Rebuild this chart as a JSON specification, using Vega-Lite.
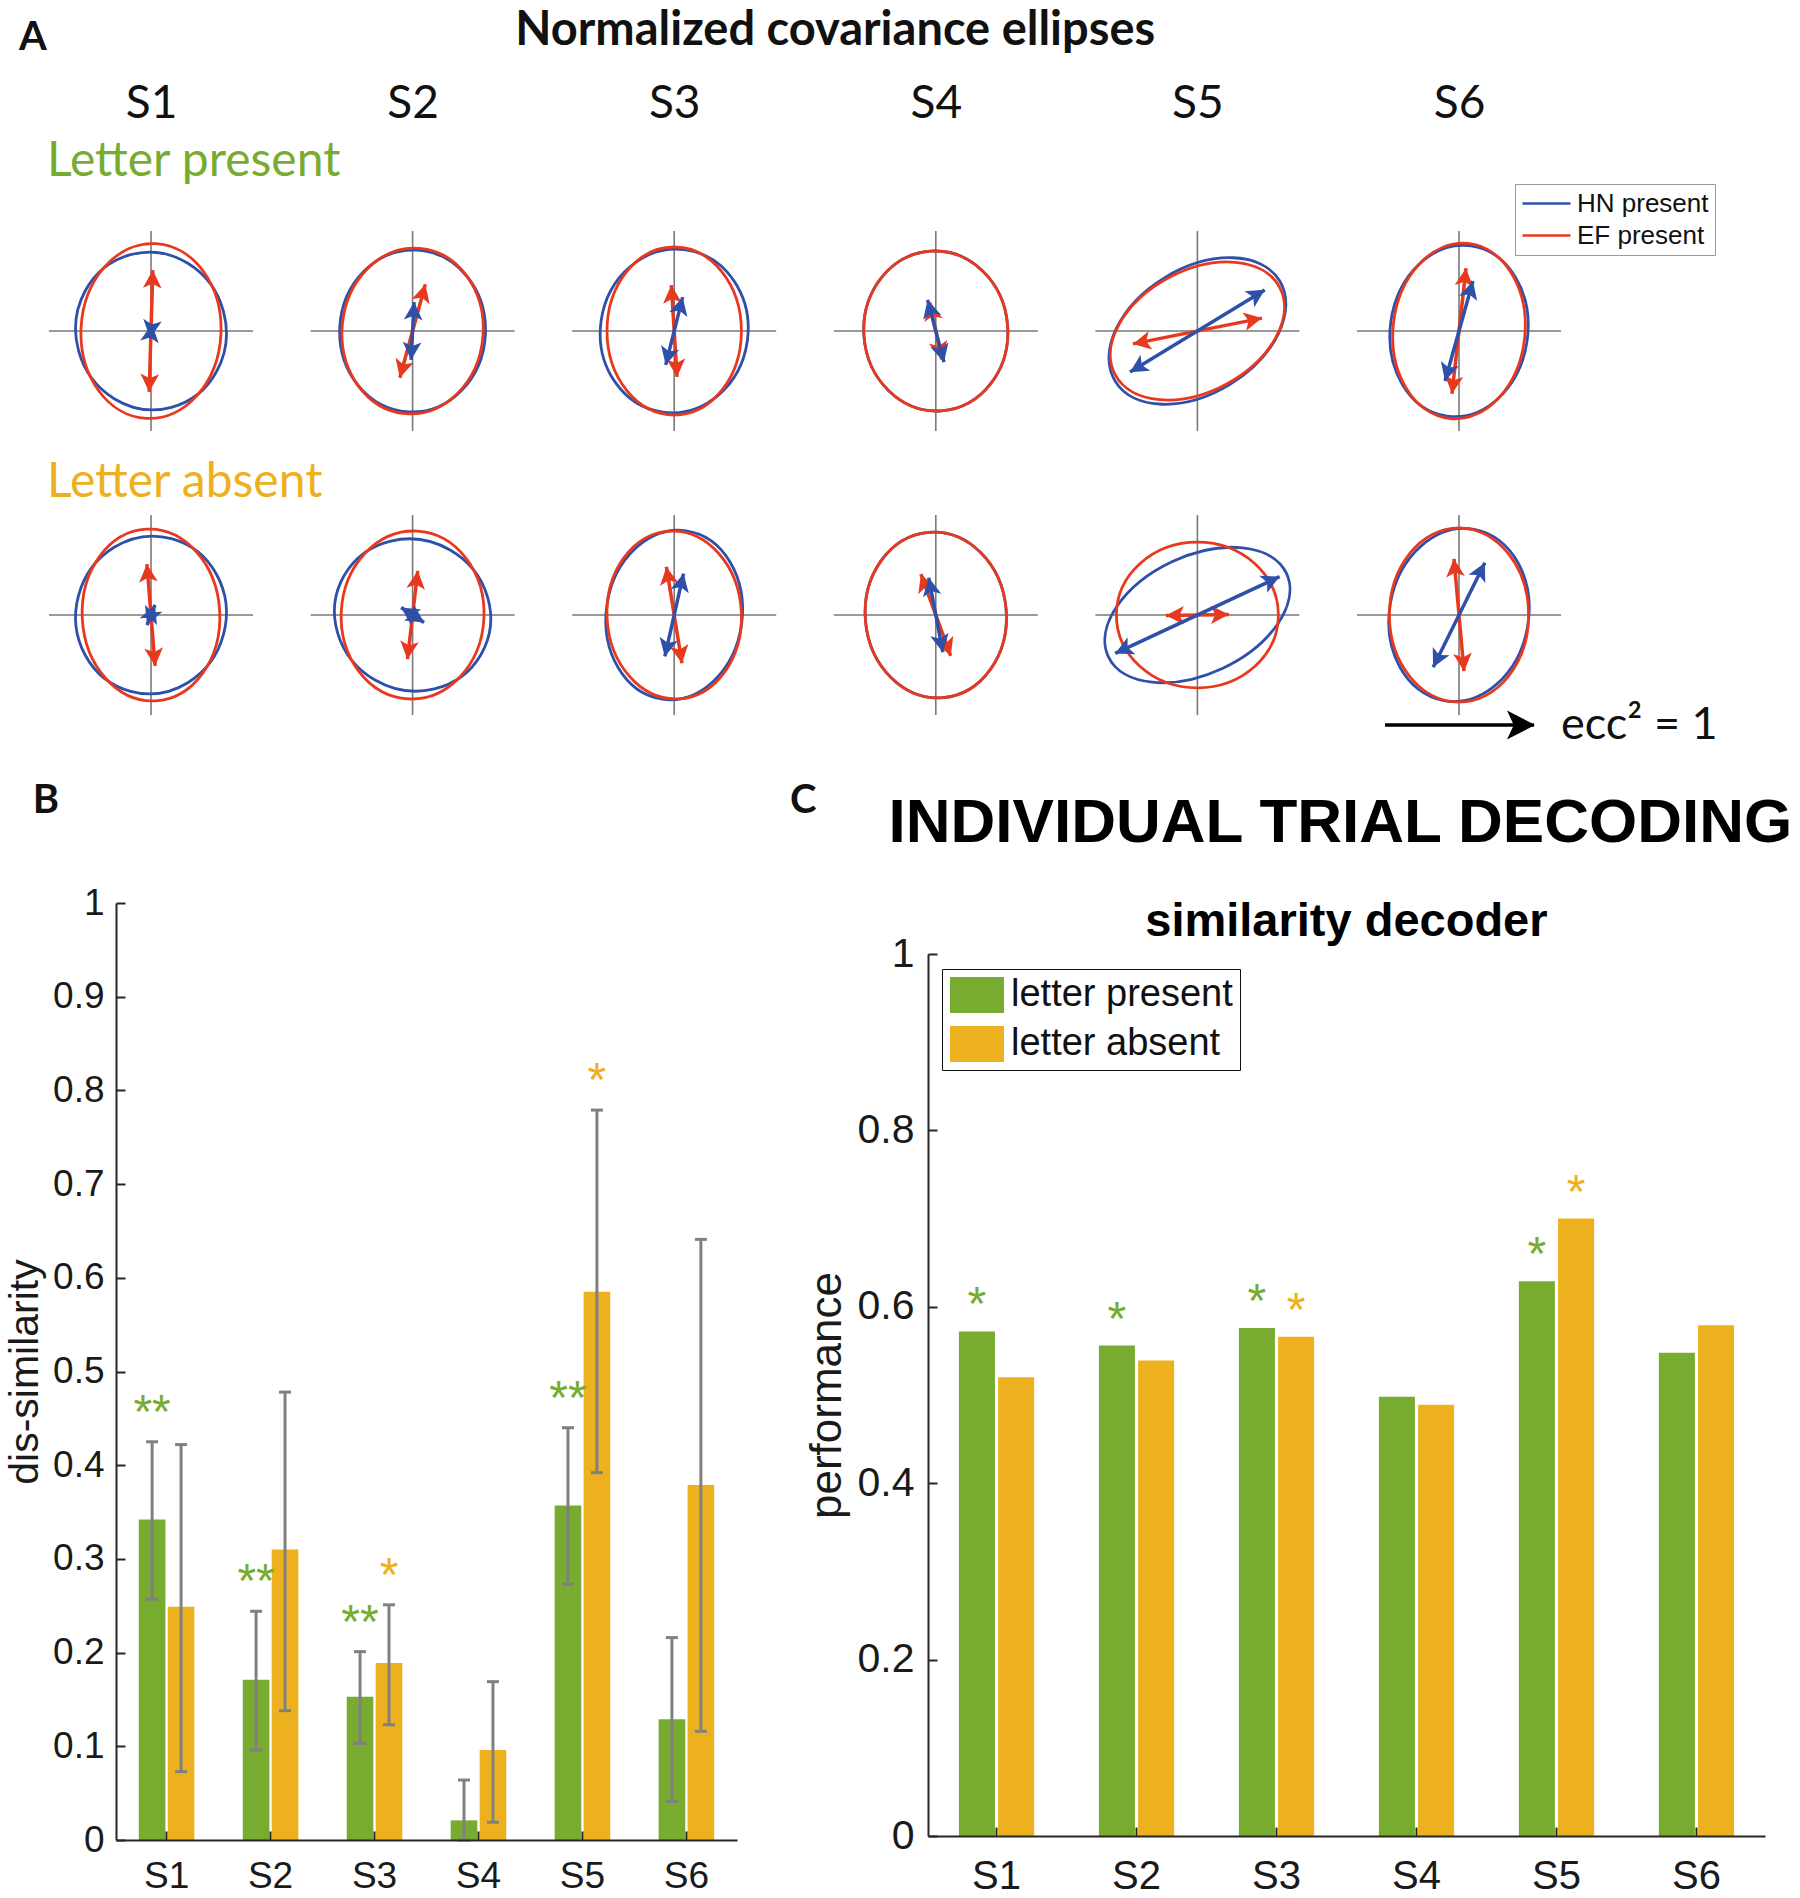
{
"$schema": "https://vega.github.io/schema/vega-lite/v6.json",
"width": 1800, "height": 1898, "padding": 0, "autosize": {"type": "none"}, "background": "white",
"config": {"view": {"stroke": null}, "axis": {"grid": false, "labelFont": "Liberation Sans", "titleFont": "Liberation Sans", "labelColor": "#1a1a1a", "titleColor": "#1a1a1a", "domainColor": "#262626", "tickColor": "#262626"}},
"datasets": {
"ellipses": [
{"s":"S1","r":"present","w":"HN","a":0.79,"asp":"0.95","phi":105},
{"s":"S1","r":"present","w":"EF","a":0.875,"asp":"0.8","phi":87},
{"s":"S2","r":"present","w":"HN","a":0.81,"asp":"0.9","phi":87},
{"s":"S2","r":"present","w":"EF","a":0.83,"asp":"0.85","phi":85},
{"s":"S3","r":"present","w":"HN","a":0.82,"asp":"0.9","phi":82},
{"s":"S3","r":"present","w":"EF","a":0.84,"asp":"0.8","phi":90},
{"s":"S4","r":"present","w":"HN","a":0.80,"asp":"0.9","phi":94},
{"s":"S4","r":"present","w":"EF","a":0.80,"asp":"0.9","phi":94},
{"s":"S5","r":"present","w":"HN","a":0.963,"asp":"0.65","phi":31.4},
{"s":"S5","r":"present","w":"EF","a":0.931,"asp":"0.65","phi":28},
{"s":"S6","r":"present","w":"HN","a":0.86,"asp":"0.8","phi":82},
{"s":"S6","r":"present","w":"EF","a":0.88,"asp":"0.75","phi":84},
{"s":"S1","r":"absent","w":"HN","a":0.79,"asp":"0.95","phi":75},
{"s":"S1","r":"absent","w":"EF","a":0.86,"asp":"0.8","phi":93},
{"s":"S2","r":"absent","w":"HN","a":0.79,"asp":"0.95","phi":150},
{"s":"S2","r":"absent","w":"EF","a":0.84,"asp":"0.85","phi":87},
{"s":"S3","r":"absent","w":"HN","a":0.85,"asp":"0.8","phi":82},
{"s":"S3","r":"absent","w":"EF","a":0.84,"asp":"0.8","phi":93},
{"s":"S4","r":"absent","w":"HN","a":0.83,"asp":"0.85","phi":95},
{"s":"S4","r":"absent","w":"EF","a":0.83,"asp":"0.85","phi":95},
{"s":"S5","r":"absent","w":"HN","a":0.983,"asp":"0.6","phi":25},
{"s":"S5","r":"absent","w":"EF","a":0.81,"asp":"0.9","phi":0},
{"s":"S6","r":"absent","w":"HN","a":0.87,"asp":"0.8","phi":80},
{"s":"S6","r":"absent","w":"EF","a":0.87,"asp":"0.8","phi":90}
],
"arrows": [
{"s":"S1","r":"present","w":"EF","len":0.609,"phi":88.3,"tx":0.018,"ty":0.609,"bx":-0.018,"by":-0.609},
{"s":"S1","r":"present","w":"HN","len":0.071,"phi":82,"tx":0.01,"ty":0.07,"bx":-0.01,"by":-0.07},
{"s":"S2","r":"present","w":"EF","len":0.484,"phi":74.7,"tx":0.128,"ty":0.467,"bx":-0.128,"by":-0.467},
{"s":"S2","r":"present","w":"HN","len":0.29,"phi":87,"tx":0.015,"ty":0.29,"bx":-0.015,"by":-0.29},
{"s":"S3","r":"present","w":"EF","len":0.459,"phi":93.6,"tx":-0.029,"ty":0.459,"bx":0.029,"by":-0.459},
{"s":"S3","r":"present","w":"HN","len":0.349,"phi":75.9,"tx":0.085,"ty":0.339,"bx":-0.085,"by":-0.339},
{"s":"S4","r":"present","w":"EF","len":0.291,"phi":101.9,"tx":-0.06,"ty":0.285,"bx":0.06,"by":-0.285},
{"s":"S4","r":"present","w":"HN","len":0.322,"phi":104.7,"tx":-0.082,"ty":0.312,"bx":0.082,"by":-0.312},
{"s":"S5","r":"present","w":"EF","len":0.658,"phi":11.3,"tx":0.646,"ty":0.129,"bx":-0.646,"by":-0.129},
{"s":"S5","r":"present","w":"HN","len":0.789,"phi":31.4,"tx":0.674,"ty":0.412,"bx":-0.674,"by":-0.412},
{"s":"S6","r":"present","w":"EF","len":0.632,"phi":83.6,"tx":0.07,"ty":0.628,"bx":-0.07,"by":-0.628},
{"s":"S6","r":"present","w":"HN","len":0.519,"phi":74.4,"tx":0.14,"ty":0.5,"bx":-0.14,"by":-0.5},
{"s":"S1","r":"absent","w":"EF","len":0.51,"phi":94.6,"tx":-0.041,"ty":0.509,"bx":0.041,"by":-0.509},
{"s":"S1","r":"absent","w":"HN","len":0.108,"phi":68.2,"tx":0.04,"ty":0.1,"bx":-0.04,"by":-0.1},
{"s":"S2","r":"absent","w":"EF","len":0.444,"phi":83.3,"tx":0.052,"ty":0.442,"bx":-0.052,"by":-0.442},
{"s":"S2","r":"absent","w":"HN","len":0.137,"phi":146.9,"tx":-0.115,"ty":0.075,"bx":0.115,"by":-0.075},
{"s":"S3","r":"absent","w":"EF","len":0.489,"phi":99.2,"tx":-0.078,"ty":0.483,"bx":0.078,"by":-0.483},
{"s":"S3","r":"absent","w":"HN","len":0.424,"phi":77.3,"tx":0.094,"ty":0.414,"bx":-0.094,"by":-0.414},
{"s":"S4","r":"absent","w":"EF","len":0.435,"phi":110,"tx":-0.149,"ty":0.409,"bx":0.149,"by":-0.409},
{"s":"S4","r":"absent","w":"HN","len":0.379,"phi":100.7,"tx":-0.07,"ty":0.372,"bx":0.07,"by":-0.372},
{"s":"S5","r":"absent","w":"EF","len":0.315,"phi":0.9,"tx":0.315,"ty":0.005,"bx":-0.315,"by":-0.005},
{"s":"S5","r":"absent","w":"HN","len":0.907,"phi":25,"tx":0.822,"ty":0.384,"bx":-0.822,"by":-0.384},
{"s":"S6","r":"absent","w":"EF","len":0.564,"phi":95.1,"tx":-0.051,"ty":0.562,"bx":0.051,"by":-0.562},
{"s":"S6","r":"absent","w":"HN","len":0.583,"phi":63.7,"tx":0.259,"ty":0.523,"bx":-0.259,"by":-0.523}
],
"dissim": [
{"s":"S1","cond":"letter present","v":0.342,"lo":0.257,"hi":0.425,"sig":"**"},
{"s":"S1","cond":"letter absent","v":0.249,"lo":0.073,"hi":0.422,"sig":""},
{"s":"S2","cond":"letter present","v":0.171,"lo":0.096,"hi":0.244,"sig":"**"},
{"s":"S2","cond":"letter absent","v":0.310,"lo":0.138,"hi":0.478,"sig":""},
{"s":"S3","cond":"letter present","v":0.153,"lo":0.103,"hi":0.201,"sig":"**"},
{"s":"S3","cond":"letter absent","v":0.189,"lo":0.123,"hi":0.251,"sig":"*"},
{"s":"S4","cond":"letter present","v":0.021,"lo":0,"hi":0.064,"sig":""},
{"s":"S4","cond":"letter absent","v":0.096,"lo":0.019,"hi":0.169,"sig":""},
{"s":"S5","cond":"letter present","v":0.357,"lo":0.273,"hi":0.440,"sig":"**"},
{"s":"S5","cond":"letter absent","v":0.585,"lo":0.392,"hi":0.779,"sig":"*"},
{"s":"S6","cond":"letter present","v":0.129,"lo":0.041,"hi":0.216,"sig":""},
{"s":"S6","cond":"letter absent","v":0.379,"lo":0.116,"hi":0.641,"sig":""}
],
"perf": [
{"s":"S1","cond":"letter present","v":0.572,"sig":"*"},
{"s":"S1","cond":"letter absent","v":0.520,"sig":""},
{"s":"S2","cond":"letter present","v":0.556,"sig":"*"},
{"s":"S2","cond":"letter absent","v":0.539,"sig":""},
{"s":"S3","cond":"letter present","v":0.576,"sig":"*"},
{"s":"S3","cond":"letter absent","v":0.566,"sig":"*"},
{"s":"S4","cond":"letter present","v":0.498,"sig":""},
{"s":"S4","cond":"letter absent","v":0.489,"sig":""},
{"s":"S5","cond":"letter present","v":0.629,"sig":"*"},
{"s":"S5","cond":"letter absent","v":0.700,"sig":"*"},
{"s":"S6","cond":"letter present","v":0.548,"sig":""},
{"s":"S6","cond":"letter absent","v":0.579,"sig":""}
]
},
"layer": [
{
"layer": [
{"data": {"name": "ellipses"}, "transform": [{"filter": "datum.w == 'HN'"}],
 "mark": {"type": "point", "shape": "M -1 0 L 1 0 M 0 -0.98 L 0 0.98", "size": 41616, "filled": false, "stroke": "#7a7a7a", "strokeWidth": 1.6, "opacity": 1},
 "encoding": {
  "x": {"field": "s", "type": "nominal", "scale": {"type": "point", "domain": ["S1","S2","S3","S4","S5","S6"], "range": [151, 1459], "padding": 0}, "axis": {"orient": "top", "offset": -103, "title": null, "domain": false, "ticks": false, "labelPadding": 0, "labelBaseline": "middle", "labelFont": "Lato", "labelFontSize": 46, "labelColor": "#111111", "labelAngle": 0}},
  "y": {"field": "r", "type": "nominal", "scale": {"type": "point", "domain": ["present","absent"], "range": [331, 615], "padding": 0}, "axis": null}}},
{"data": {"name": "ellipses"}, "transform": [{"filter": "datum.r == 'present'"}],
 "mark": {"type": "point", "filled": false, "strokeWidth": 2.8, "opacity": 1},
 "encoding": {
  "x": {"field": "s", "type": "nominal"},
  "y": {"field": "r", "type": "nominal"},
  "shape": {"field": "asp", "type": "nominal", "legend": null, "scale": {"domain": ["0.6","0.65","0.75","0.8","0.85","0.9","0.95"], "range": [
   "M 0 -1 C 0.3314 -1 0.6 -0.5523 0.6 0 C 0.6 0.5523 0.3314 1 0 1 C -0.3314 1 -0.6 0.5523 -0.6 0 C -0.6 -0.5523 -0.3314 -1 0 -1 Z",
   "M 0 -1 C 0.359 -1 0.65 -0.5523 0.65 0 C 0.65 0.5523 0.359 1 0 1 C -0.359 1 -0.65 0.5523 -0.65 0 C -0.65 -0.5523 -0.359 -1 0 -1 Z",
   "M 0 -1 C 0.4142 -1 0.75 -0.5523 0.75 0 C 0.75 0.5523 0.4142 1 0 1 C -0.4142 1 -0.75 0.5523 -0.75 0 C -0.75 -0.5523 -0.4142 -1 0 -1 Z",
   "M 0 -1 C 0.4418 -1 0.8 -0.5523 0.8 0 C 0.8 0.5523 0.4418 1 0 1 C -0.4418 1 -0.8 0.5523 -0.8 0 C -0.8 -0.5523 -0.4418 -1 0 -1 Z",
   "M 0 -1 C 0.4695 -1 0.85 -0.5523 0.85 0 C 0.85 0.5523 0.4695 1 0 1 C -0.4695 1 -0.85 0.5523 -0.85 0 C -0.85 -0.5523 -0.4695 -1 0 -1 Z",
   "M 0 -1 C 0.4971 -1 0.9 -0.5523 0.9 0 C 0.9 0.5523 0.4971 1 0 1 C -0.4971 1 -0.9 0.5523 -0.9 0 C -0.9 -0.5523 -0.4971 -1 0 -1 Z",
   "M 0 -1 C 0.5247 -1 0.95 -0.5523 0.95 0 C 0.95 0.5523 0.5247 1 0 1 C -0.5247 1 -0.95 0.5523 -0.95 0 C -0.95 -0.5523 -0.5247 -1 0 -1 Z"]}},
  "size": {"field": "a", "type": "quantitative", "legend": null, "scale": {"type": "pow", "exponent": 2, "domain": [0, 1], "range": [0, 40000]}},
  "angle": {"field": "phi", "type": "quantitative", "legend": null, "scale": {"domain": [-180, 180], "range": [270, -90]}},
  "stroke": {"field": "w", "type": "nominal", "scale": {"domain": ["HN","EF"], "range": ["#2F50A8","#E8391F"]},
   "legend": {"orient": "none", "legendX": 1515, "legendY": 184, "title": null, "labelExpr": "datum.label + ' present'", "symbolType": "M -1 0 L 3 0", "symbolSize": 576, "symbolStrokeWidth": 2.5, "labelFont": "Liberation Sans", "labelFontSize": 26, "labelColor": "#111111", "labelOffset": 29, "labelLimit": 400, "padding": 6, "rowPadding": 5, "strokeColor": "#9a9a9a", "fillColor": "white"}}}},
{"data": {"name": "ellipses"}, "transform": [{"filter": "datum.r == 'absent'"}],
 "mark": {"type": "point", "filled": false, "strokeWidth": 2.8, "opacity": 1},
 "encoding": {
  "x": {"field": "s", "type": "nominal"},
  "y": {"field": "r", "type": "nominal"},
  "shape": {"field": "asp", "type": "nominal", "legend": null},
  "size": {"field": "a", "type": "quantitative", "legend": null},
  "angle": {"field": "phi", "type": "quantitative", "legend": null},
  "color": {"field": "w", "type": "nominal", "scale": {"domain": ["HN","EF"], "range": ["#2F50A8","#E8391F"]},
   "legend": {"orient": "none", "legendX": 1511, "legendY": 472, "title": null, "labelExpr": "datum.label + ' absent'", "symbolType": "M -1 0 L 3 0", "symbolSize": 576, "symbolStrokeWidth": 2.5, "labelFont": "Liberation Sans", "labelFontSize": 26, "labelColor": "#111111", "labelOffset": 29, "labelLimit": 400, "padding": 6, "rowPadding": 5, "strokeColor": "#9a9a9a", "fillColor": "white"}}}},
{"data": {"name": "arrows"}, "transform": [{"filter": "datum.w == 'EF'"}],
 "mark": {"type": "point", "shape": "M 0 -1 L 0 1", "filled": false, "strokeWidth": 3.5, "opacity": 1},
 "encoding": {"x": {"field": "s", "type": "nominal"}, "y": {"field": "r", "type": "nominal"},
  "size": {"field": "len", "type": "quantitative", "legend": null}, "angle": {"field": "phi", "type": "quantitative", "legend": null},
  "color": {"field": "w", "type": "nominal"}}},
{"data": {"name": "arrows"}, "transform": [{"filter": "datum.w == 'EF'"}],
 "mark": {"type": "point", "shape": "M 0 0 L 0.75 1.45 L 0 1.1 L -0.75 1.45 Z", "filled": true, "size": 620, "opacity": 1},
 "encoding": {"x": {"field": "s", "type": "nominal"}, "y": {"field": "r", "type": "nominal"},
  "xOffset": {"field": "tx", "type": "quantitative", "scale": {"domain": [-1, 1], "range": [-100, 100]}},
  "yOffset": {"field": "ty", "type": "quantitative", "scale": {"domain": [-1, 1], "range": [100, -100]}},
  "angle": {"field": "phi", "type": "quantitative", "legend": null},
  "color": {"field": "w", "type": "nominal"}}},
{"data": {"name": "arrows"}, "transform": [{"filter": "datum.w == 'EF'"}],
 "mark": {"type": "point", "shape": "M 0 0 L 0.75 -1.45 L 0 -1.1 L -0.75 -1.45 Z", "filled": true, "size": 620, "opacity": 1},
 "encoding": {"x": {"field": "s", "type": "nominal"}, "y": {"field": "r", "type": "nominal"},
  "xOffset": {"field": "bx", "type": "quantitative", "scale": {"domain": [-1, 1], "range": [-100, 100]}},
  "yOffset": {"field": "by", "type": "quantitative", "scale": {"domain": [-1, 1], "range": [100, -100]}},
  "angle": {"field": "phi", "type": "quantitative", "legend": null},
  "color": {"field": "w", "type": "nominal"}}},
{"data": {"name": "arrows"}, "transform": [{"filter": "datum.w == 'HN'"}],
 "mark": {"type": "point", "shape": "M 0 -1 L 0 1", "filled": false, "strokeWidth": 3.5, "opacity": 1},
 "encoding": {"x": {"field": "s", "type": "nominal"}, "y": {"field": "r", "type": "nominal"},
  "size": {"field": "len", "type": "quantitative", "legend": null}, "angle": {"field": "phi", "type": "quantitative", "legend": null},
  "color": {"field": "w", "type": "nominal"}}},
{"data": {"name": "arrows"}, "transform": [{"filter": "datum.w == 'HN'"}],
 "mark": {"type": "point", "shape": "M 0 0 L 0.75 1.45 L 0 1.1 L -0.75 1.45 Z", "filled": true, "size": 620, "opacity": 1},
 "encoding": {"x": {"field": "s", "type": "nominal"}, "y": {"field": "r", "type": "nominal"},
  "xOffset": {"field": "tx", "type": "quantitative", "scale": {"domain": [-1, 1], "range": [-100, 100]}},
  "yOffset": {"field": "ty", "type": "quantitative", "scale": {"domain": [-1, 1], "range": [100, -100]}},
  "angle": {"field": "phi", "type": "quantitative", "legend": null},
  "color": {"field": "w", "type": "nominal"}}},
{"data": {"name": "arrows"}, "transform": [{"filter": "datum.w == 'HN'"}],
 "mark": {"type": "point", "shape": "M 0 0 L 0.75 -1.45 L 0 -1.1 L -0.75 -1.45 Z", "filled": true, "size": 620, "opacity": 1},
 "encoding": {"x": {"field": "s", "type": "nominal"}, "y": {"field": "r", "type": "nominal"},
  "xOffset": {"field": "bx", "type": "quantitative", "scale": {"domain": [-1, 1], "range": [-100, 100]}},
  "yOffset": {"field": "by", "type": "quantitative", "scale": {"domain": [-1, 1], "range": [100, -100]}},
  "angle": {"field": "phi", "type": "quantitative", "legend": null},
  "color": {"field": "w", "type": "nominal"}}},
{"data": {"values": [{}]},
 "mark": {"type": "point", "shape": "M -1 0 L 1 0", "filled": false, "stroke": "black", "strokeWidth": 3.5, "size": 22201, "opacity": 1},
 "encoding": {"x": {"datum": "S6", "type": "nominal"}, "y": {"datum": "absent", "type": "nominal"}, "xOffset": {"datum": 0.005, "type": "quantitative", "scale": {"domain": [-1, 1], "range": [-100, 100]}}, "yOffset": {"datum": -1.10, "type": "quantitative", "scale": {"domain": [-1, 1], "range": [100, -100]}}}},
{"data": {"values": [{}]},
 "mark": {"type": "point", "shape": "M 0 0 L 0.75 1.45 L 0 1.1 L -0.75 1.45 Z", "filled": true, "fill": "black", "size": 1490, "angle": 90, "opacity": 1},
 "encoding": {"x": {"datum": "S6", "type": "nominal"}, "y": {"datum": "absent", "type": "nominal"}, "xOffset": {"datum": 0.76, "type": "quantitative", "scale": {"domain": [-1, 1], "range": [-100, 100]}}, "yOffset": {"datum": -1.10, "type": "quantitative", "scale": {"domain": [-1, 1], "range": [100, -100]}}}},
{"data": {"values": [{}]},
 "mark": {"type": "text", "text": "ecc² = 1", "font": "Lato", "fontSize": 45, "align": "left", "baseline": "middle", "color": "#111111"},
 "encoding": {"x": {"datum": "S6", "type": "nominal"}, "y": {"datum": "absent", "type": "nominal"}, "xOffset": {"datum": 1.02, "type": "quantitative", "scale": {"domain": [-1, 1], "range": [-100, 100]}}, "yOffset": {"datum": -1.10, "type": "quantitative", "scale": {"domain": [-1, 1], "range": [100, -100]}}}},
{"data": {"values": [{}]},
 "mark": {"type": "text", "text": "A", "font": "Lato", "fontSize": 40, "fontWeight": "bold", "align": "center", "baseline": "middle", "color": "#111111"},
 "encoding": {"x": {"datum": "S1", "type": "nominal"}, "y": {"datum": "present", "type": "nominal"}, "xOffset": {"datum": -1.18, "type": "quantitative", "scale": {"domain": [-1, 1], "range": [-100, 100]}}, "yOffset": {"datum": 2.93, "type": "quantitative", "scale": {"domain": [-1, 1], "range": [100, -100]}}}},
{"data": {"values": [{}]},
 "mark": {"type": "text", "text": "Normalized covariance ellipses", "font": "Lato", "fontSize": 47, "fontWeight": "bold", "align": "center", "baseline": "middle", "color": "#111111"},
 "encoding": {"x": {"datum": "S3", "type": "nominal"}, "y": {"datum": "present", "type": "nominal"}, "xOffset": {"datum": 1.61, "type": "quantitative", "scale": {"domain": [-1, 1], "range": [-100, 100]}}, "yOffset": {"datum": 3.0, "type": "quantitative", "scale": {"domain": [-1, 1], "range": [100, -100]}}}},
{"data": {"values": [{}]},
 "mark": {"type": "text", "text": "Letter present", "font": "Lato", "fontSize": 48, "align": "left", "baseline": "middle", "color": "#77AC30"},
 "encoding": {"x": {"datum": "S1", "type": "nominal"}, "y": {"datum": "present", "type": "nominal"}, "xOffset": {"datum": -1.04, "type": "quantitative", "scale": {"domain": [-1, 1], "range": [-100, 100]}}, "yOffset": {"datum": 1.69, "type": "quantitative", "scale": {"domain": [-1, 1], "range": [100, -100]}}}},
{"data": {"values": [{}]},
 "mark": {"type": "text", "text": "Letter absent", "font": "Lato", "fontSize": 48, "align": "left", "baseline": "middle", "color": "#EDB120"},
 "encoding": {"x": {"datum": "S1", "type": "nominal"}, "y": {"datum": "absent", "type": "nominal"}, "xOffset": {"datum": -1.04, "type": "quantitative", "scale": {"domain": [-1, 1], "range": [-100, 100]}}, "yOffset": {"datum": 1.32, "type": "quantitative", "scale": {"domain": [-1, 1], "range": [100, -100]}}}},
{"data": {"values": [{}]},
 "mark": {"type": "text", "text": "B", "font": "Lato", "fontSize": 40, "fontWeight": "bold", "align": "center", "baseline": "middle", "color": "#111111"},
 "encoding": {"x": {"datum": "S1", "type": "nominal"}, "y": {"datum": "present", "type": "nominal"}, "xOffset": {"datum": -1.05, "type": "quantitative", "scale": {"domain": [-1, 1], "range": [-100, 100]}}, "yOffset": {"datum": -4.70, "type": "quantitative", "scale": {"domain": [-1, 1], "range": [100, -100]}}}},
{"data": {"values": [{}]},
 "mark": {"type": "text", "text": "C", "font": "Lato", "fontSize": 40, "fontWeight": "bold", "align": "center", "baseline": "middle", "color": "#111111"},
 "encoding": {"x": {"datum": "S3", "type": "nominal"}, "y": {"datum": "present", "type": "nominal"}, "xOffset": {"datum": 1.29, "type": "quantitative", "scale": {"domain": [-1, 1], "range": [-100, 100]}}, "yOffset": {"datum": -4.70, "type": "quantitative", "scale": {"domain": [-1, 1], "range": [100, -100]}}}},
{"data": {"values": [{}]},
 "mark": {"type": "text", "text": "INDIVIDUAL TRIAL DECODING", "font": "Liberation Sans", "fontSize": 62, "fontWeight": "bold", "align": "center", "baseline": "middle", "color": "#000000"},
 "encoding": {"x": {"datum": "S5", "type": "nominal"}, "y": {"datum": "present", "type": "nominal"}, "xOffset": {"datum": 1.43, "type": "quantitative", "scale": {"domain": [-1, 1], "range": [-100, 100]}}, "yOffset": {"datum": -4.92, "type": "quantitative", "scale": {"domain": [-1, 1], "range": [100, -100]}}}},
{"data": {"values": [{}]},
 "mark": {"type": "text", "text": "similarity decoder", "font": "Liberation Sans", "fontSize": 47, "fontWeight": "bold", "align": "center", "baseline": "middle", "color": "#000000"},
 "encoding": {"x": {"datum": "S5", "type": "nominal"}, "y": {"datum": "present", "type": "nominal"}, "xOffset": {"datum": 1.49, "type": "quantitative", "scale": {"domain": [-1, 1], "range": [-100, 100]}}, "yOffset": {"datum": -5.91, "type": "quantitative", "scale": {"domain": [-1, 1], "range": [100, -100]}}}}
]
},
{
"data": {"name": "dissim"},
"layer": [
{"mark": {"type": "bar"},
 "encoding": {
  "x": {"field": "s", "type": "nominal", "scale": {"type": "band", "domain": ["S1","S2","S3","S4","S5","S6"], "range": [116, 737], "paddingInner": 0.4653, "paddingOuter": 0.2192},
   "axis": {"orient": "bottom", "offset": -58, "title": null, "labelFontSize": 37, "labelAngle": 0, "tickSize": -9, "tickWidth": 2, "domainWidth": 2, "labelPadding": 27, "zindex": 1}},
  "xOffset": {"field": "cond", "type": "nominal", "scale": {"domain": ["letter present","letter absent"], "paddingInner": 0.08}},
  "y": {"field": "v", "type": "quantitative", "scale": {"domain": [0, 1], "range": [1840, 903], "nice": false},
   "axis": {"orient": "left", "offset": -116, "values": [0,0.1,0.2,0.3,0.4,0.5,0.6,0.7,0.8,0.9,1], "format": "~g", "title": "dis-similarity", "titleFontSize": 41, "titleFontWeight": "normal", "titlePadding": 6, "labelFontSize": 37, "tickSize": -9, "tickWidth": 2, "domainWidth": 2, "labelPadding": 21, "zindex": 1}},
  "fill": {"field": "cond", "type": "nominal", "scale": {"domain": ["letter present","letter absent"], "range": ["#77AC30","#EDB120"]}}}},
{"mark": {"type": "rule", "color": "#808080", "strokeWidth": 3},
 "encoding": {"x": {"field": "s", "type": "nominal"}, "xOffset": {"field": "cond", "type": "nominal"},
  "y": {"field": "lo", "type": "quantitative"}, "y2": {"field": "hi"}}},
{"mark": {"type": "tick", "color": "#808080", "thickness": 3, "size": 12, "opacity": 1},
 "encoding": {"x": {"field": "s", "type": "nominal"}, "xOffset": {"field": "cond", "type": "nominal"},
  "y": {"field": "lo", "type": "quantitative"}}},
{"mark": {"type": "tick", "color": "#808080", "thickness": 3, "size": 12, "opacity": 1},
 "encoding": {"x": {"field": "s", "type": "nominal"}, "xOffset": {"field": "cond", "type": "nominal"},
  "y": {"field": "hi", "type": "quantitative"}}},
{"transform": [{"filter": "datum.sig != ''"}],
 "mark": {"type": "text", "font": "Liberation Sans", "fontSize": 48, "baseline": "alphabetic", "align": "center", "dy": -14},
 "encoding": {"x": {"field": "s", "type": "nominal"}, "xOffset": {"field": "cond", "type": "nominal"},
  "y": {"field": "hi", "type": "quantitative"}, "text": {"field": "sig"},
  "fill": {"field": "cond", "type": "nominal"}}}
]
},
{
"data": {"name": "perf"},
"layer": [
{"mark": {"type": "bar"},
 "encoding": {
  "x": {"field": "s", "type": "nominal", "scale": {"type": "band", "domain": ["S1","S2","S3","S4","S5","S6"], "range": [928, 1765], "paddingInner": 0.4625, "paddingOuter": 0.2208},
   "axis": {"orient": "bottom", "offset": -62, "title": null, "labelFontSize": 40, "labelAngle": 0, "tickSize": -9, "tickWidth": 2, "domainWidth": 2, "labelPadding": 29, "zindex": 1}},
  "xOffset": {"field": "cond", "type": "nominal", "scale": {"domain": ["letter present","letter absent"], "paddingInner": 0.081}},
  "y": {"field": "v", "type": "quantitative", "scale": {"domain": [0, 1], "range": [1836, 954], "nice": false},
   "axis": {"orient": "left", "offset": -928, "values": [0,0.2,0.4,0.6,0.8,1], "format": "~g", "title": "performance", "titleFontSize": 44, "titleFontWeight": "normal", "titlePadding": 8, "labelFontSize": 41, "tickSize": -9, "tickWidth": 2, "domainWidth": 2, "labelPadding": 23, "zindex": 1}},
  "fill": {"field": "cond", "type": "nominal",
   "legend": {"orient": "none", "legendX": 942, "legendY": 969, "title": null, "symbolType": "M -1 -1 L 2 -1 L 2 1 L -1 1 Z", "symbolSize": 1296, "symbolStrokeWidth": 0, "symbolOpacity": 1, "labelFont": "Liberation Sans", "labelFontSize": 38, "labelColor": "#111111", "labelOffset": 24, "labelLimit": 500, "padding": 7, "rowPadding": 11, "strokeColor": "#111111", "fillColor": "white"}}}},
{"transform": [{"filter": "datum.sig != ''"}],
 "mark": {"type": "text", "font": "Liberation Sans", "fontSize": 48, "baseline": "alphabetic", "align": "center", "dy": -11},
 "encoding": {"x": {"field": "s", "type": "nominal"}, "xOffset": {"field": "cond", "type": "nominal"},
  "y": {"field": "v", "type": "quantitative"}, "text": {"field": "sig"},
  "fill": {"field": "cond", "type": "nominal"}}}
]
}
],
"resolve": {"scale": {"x": "independent", "y": "independent", "xOffset": "independent", "yOffset": "independent"}, "axis": {"x": "independent", "y": "independent"}}
}
